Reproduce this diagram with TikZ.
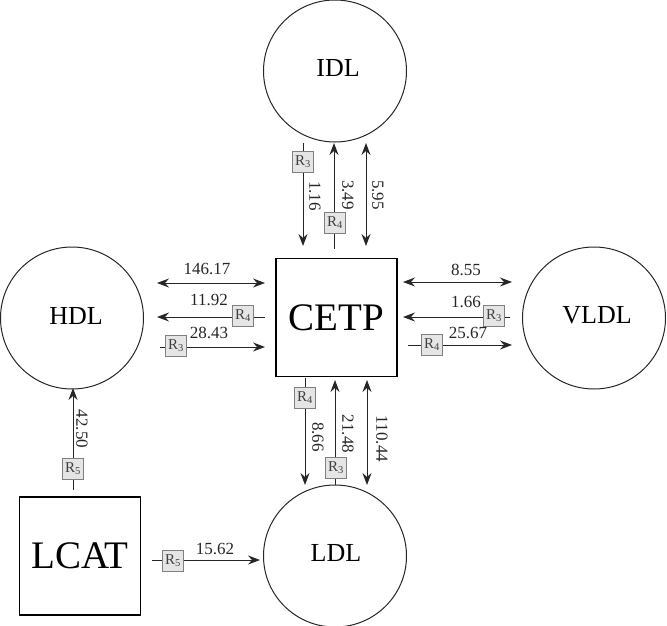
\documentclass[tikz,border=0pt]{standalone}
\usepackage{fontspec}
\setmainfont{Liberation Serif}
\usetikzlibrary{arrows.meta,shapes.geometric}
\begin{document}
\begin{tikzpicture}[x=1pt,y=-1pt,
  pool/.style={ellipse,draw=black!85,line width=1pt,minimum width=143pt,minimum height=142pt,inner sep=0pt},
  ptext/.style={inner sep=0pt,font=\fontsize{26}{28}\selectfont},
  enz/.style={rectangle,draw=black,line width=1.5pt,minimum width=121pt,minimum height=118pt,inner sep=0pt,font=\fontsize{39}{40}\selectfont},
  rbox/.style={rectangle,draw=black!50,fill=black!10,minimum width=21pt,minimum height=21pt,inner sep=0pt,font=\fontsize{15}{16}\selectfont,text=black!75},
  flow/.style={draw=black!85,line width=1pt},
  tip/.style={-{Stealth[length=12pt,width=9pt,inset=4pt]}},
  both/.style={{Stealth[length=12pt,width=9pt,inset=4pt]}-{Stealth[length=12pt,width=9pt,inset=4pt]}},
  num/.style={inner sep=0pt,font=\fontsize{17}{18}\selectfont,text=black!85},
  vnum/.style={num,rotate=-90}
]
\useasboundingbox (0,0) rectangle (667,626);
% pools
\node[pool] (IDL) at (335,71) {};
\node[ptext] (IDLt) at (338,68) {IDL};
\node[pool] (HDL) at (72,318) {};
\node[ptext] (HDLt) at (76,316) {HDL};
\node[pool] (VLDL) at (594,318) {};
\node[ptext] (VLDLt) at (597,315) {VLDL};
\node[pool] (LDL) at (335,556) {};
\node[ptext] (LDLt) at (336,553) {LDL};
% enzymes
\node[enz] (CETP) at (336.5,317.5) {CETP};
\node[enz] (LCAT) at (80,556) {LCAT};

% top group
\coordinate (a1s) at (303,143); \coordinate (a1e) at (303,246);
\coordinate (a2s) at (334,249); \coordinate (a2e) at (334,143);
\coordinate (a3s) at (366,143); \coordinate (a3e) at (366,246);
\draw[flow,tip] (a1s) -- (a1e);
\draw[flow,tip] (a2s) -- (a2e);
\draw[flow,both] (a3s) -- (a3e);
\node[rbox] (r1) at (303,162) {R\textsubscript{3}};
\node[rbox] (r2) at (335,223) {R\textsubscript{4}};
\node[vnum] (l1) at (315,196) {1.16};
\node[vnum] (l2) at (348,195) {3.49};
\node[vnum] (l3) at (378,195) {5.95};

% left group
\coordinate (b1s) at (157,283); \coordinate (b1e) at (265,283);
\coordinate (b2s) at (265,317); \coordinate (b2e) at (157,317);
\coordinate (b3s) at (160,347); \coordinate (b3e) at (265,347);
\draw[flow,both] (b1s) -- (b1e);
\draw[flow,tip] (b2s) -- (b2e);
\draw[flow,tip] (b3s) -- (b3e);
\node[rbox] (r3) at (243,316) {R\textsubscript{4}};
\node[rbox] (r4) at (176,346) {R\textsubscript{3}};
\node[num] (l4) at (207,269) {146.17};
\node[num] (l5) at (209,300) {11.92};
\node[num] (l6) at (209,333) {28.43};

% right group
\coordinate (c1s) at (403,282); \coordinate (c1e) at (512,282);
\coordinate (c2s) at (510,317); \coordinate (c2e) at (403,317);
\coordinate (c3s) at (408,345); \coordinate (c3e) at (512,345);
\draw[flow,both] (c1s) -- (c1e);
\draw[flow,tip] (c2s) -- (c2e);
\draw[flow,tip] (c3s) -- (c3e);
\node[rbox] (r5) at (494,316) {R\textsubscript{3}};
\node[rbox] (r6) at (432,345) {R\textsubscript{4}};
\node[num] (l7) at (466,270) {8.55};
\node[num] (l8) at (466,302) {1.66};
\node[num] (l9) at (468,333) {25.67};

% bottom group
\coordinate (d1s) at (305,378); \coordinate (d1e) at (305,485);
\coordinate (d2s) at (335,485); \coordinate (d2e) at (335,380);
\coordinate (d3s) at (367,380); \coordinate (d3e) at (367,485);
\draw[flow,tip] (d1s) -- (d1e);
\draw[flow,tip] (d2s) -- (d2e);
\draw[flow,both] (d3s) -- (d3e);
\node[rbox] (r7) at (305,398) {R\textsubscript{4}};
\node[rbox] (r8) at (336,468) {R\textsubscript{3}};
\node[vnum] (l10) at (318,437) {8.66};
\node[vnum] (l11) at (348,434) {21.48};
\node[vnum] (l12) at (382,439) {110.44};

% LCAT
\coordinate (e1s) at (73,490); \coordinate (e1e) at (73,388);
\coordinate (e2s) at (152,560); \coordinate (e2e) at (260,560);
\draw[flow,tip] (e1s) -- (e1e);
\draw[flow,tip] (e2s) -- (e2e);
\node[rbox] (r9) at (73,469) {R\textsubscript{5}};
\node[rbox] (r10) at (173,561) {R\textsubscript{5}};
\node[vnum] (l13) at (82,429) {42.50};
\node[num] (l14) at (215,549) {15.62};
\end{tikzpicture}
\end{document}
